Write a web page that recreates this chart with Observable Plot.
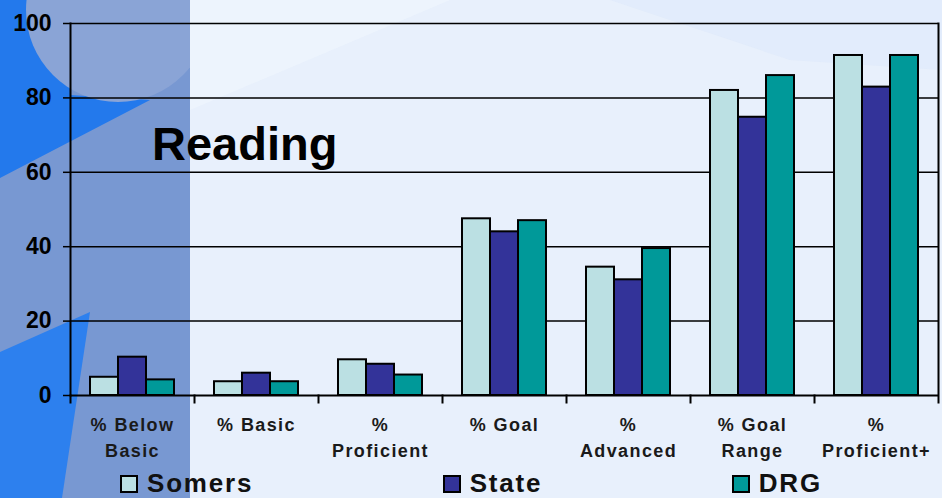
<!DOCTYPE html>
<html>
<head>
<meta charset="utf-8">
<script src="https://cdn.jsdelivr.net/npm/d3@7"></script>
<script src="https://cdn.jsdelivr.net/npm/@observablehq/plot@0.6"></script>
<style>
  html, body { margin: 0; padding: 0; }
  body { width: 942px; height: 498px; overflow: hidden; font-family: "Liberation Sans", Arial, sans-serif; }
  #wrap { position: relative; width: 942px; height: 498px; background: #E8F0FC; overflow: hidden; }
  .shape { position: absolute; }
  #strip { left: 0; top: 0; width: 190px; height: 498px; background: #7898D2; overflow: hidden; }
  #strip .a { left: 0; top: 0; width: 190px; height: 498px; background: #2379EC; clip-path: polygon(0 0, 70px 0, 70px 95px, 150px 100px, 0 178px); }
  #strip .c { left: 26px; top: -82px; width: 184px; height: 184px; border-radius: 50%; background: #8AA4D6; }
  #strip .b { left: 0; top: 0; width: 190px; height: 498px; background: #2D80EE; clip-path: polygon(0 352px, 90px 312px, 62px 498px, 0 498px); }
  #light1 { left: 190px; top: 0; width: 752px; height: 498px; background: #F0F6FE; opacity: .6; clip-path: polygon(0 0, 260px 0, 0 110px); }
  #light2 { left: 190px; top: 0; width: 752px; height: 498px; background: #DCE8FB; opacity: .5; clip-path: polygon(420px 0, 752px 0, 752px 70px, 600px 60px); }
  #chart { position: absolute; left: 0; top: 0; }
  #title { position: absolute; left: 152px; top: 120px; font-size: 47px; font-weight: bold; line-height: 1; color: #000; }
  #legend { position: absolute; left: 120px; top: 468px; width: 702px; display: flex; justify-content: space-between; align-items: center; }
  .item { display: flex; align-items: center; font-size: 26px; font-weight: bold; color: #111; letter-spacing: 1.8px; }
  .sw { width: 14px; height: 14px; border: 2px solid #000; margin-right: 9px; }
</style>
</head>
<body>
<div id="wrap">
  <div id="strip" class="shape"><div class="shape a"></div><div class="shape c"></div><div class="shape b"></div></div>
  <div id="light1" class="shape"></div>
  <div id="light2" class="shape"></div>
  <div id="chart"></div>
  <div id="title">Reading</div>
  <div id="legend"></div>
</div>
<script>
const categories = ["% Below Basic", "% Basic", "% Proficient", "% Goal", "% Advanced", "% Goal Range", "% Proficient+"];
const categoryLabels = ["% Below\nBasic", "% Basic", "%\nProficient", "% Goal", "%\nAdvanced", "% Goal\nRange", "%\nProficient+"];
const series = ["Somers", "State", "DRG"];
const somers = [4.9, 3.7, 9.6, 47.5, 34.5, 82.0, 91.4];
const state  = [10.3, 6.0, 8.4, 44.0, 31.1, 74.8, 82.9];
const drg    = [4.2, 3.7, 5.5, 47.0, 39.5, 86.0, 91.4];
const seriesColors = ["#BBE0E3", "#333399", "#009999"];
const yTicks = [0, 20, 40, 60, 80, 100];

const valuesBySeries = [somers, state, drg];
const rows = [];
series.forEach((s, si) => categories.forEach((c, ci) => rows.push({category: c, series: s, value: valuesBySeries[si][ci]})));
const labelOf = new Map(categories.map((c, i) => [c, categoryLabels[i]]));

const chart = Plot.plot({
  width: 942,
  height: 465,
  marginTop: 23,
  marginBottom: 70,
  marginLeft: 67,
  marginRight: 2,
  style: {background: "transparent", overflow: "visible", fontFamily: "'Liberation Sans', Arial, sans-serif"},
  fx: {domain: categories, padding: 0, axis: null},
  x: {domain: series, paddingInner: 0, paddingOuter: 0.7, axis: null},
  y: {domain: [0, 100], axis: null},
  color: {domain: series, range: seriesColors},
  marks: [
    Plot.gridY(yTicks.filter(d => d > 0), {stroke: "#000", strokeOpacity: 1, strokeWidth: 1.5}),
    Plot.barY(rows, {fx: "category", x: "series", y: "value", fill: "series", stroke: "#000", strokeWidth: 2}),
    Plot.ruleY([0], {stroke: "#000", strokeWidth: 2}),
    Plot.frame({anchor: "left", facetAnchor: "left", stroke: "#000", strokeWidth: 2}),
    Plot.frame({anchor: "right", facetAnchor: "right", stroke: "#000", strokeWidth: 2, insetBottom: -7}),
    Plot.frame({anchor: "left", stroke: "#000", strokeWidth: 2, insetTop: 372, insetBottom: -7}),
    Plot.axisY({ticks: yTicks, label: null, tickSize: 7, tickPadding: 12, fontSize: 23, fontWeight: "bold", stroke: "#000", strokeWidth: 1.5, fill: "#000", tickFormat: d => String(d)}),
    Plot.text(categories, {fx: d => d, text: d => labelOf.get(d), frameAnchor: "bottom", lineAnchor: "top", dy: 17, fontSize: 18, fontWeight: "bold", lineHeight: 1.45, fill: "#1a1a1a"})
  ]
});
document.getElementById("chart").appendChild(chart);
d3.select(chart).selectAll('g[aria-label="text"] text').attr("letter-spacing", "1.4px");

const legend = document.getElementById("legend");
series.forEach((s, i) => {
  const item = document.createElement("div");
  item.className = "item";
  const sw = document.createElement("span");
  sw.className = "sw";
  sw.style.background = seriesColors[i];
  const t = document.createElement("span");
  t.textContent = s;
  item.appendChild(sw);
  item.appendChild(t);
  legend.appendChild(item);
});
</script>
</body>
</html>
